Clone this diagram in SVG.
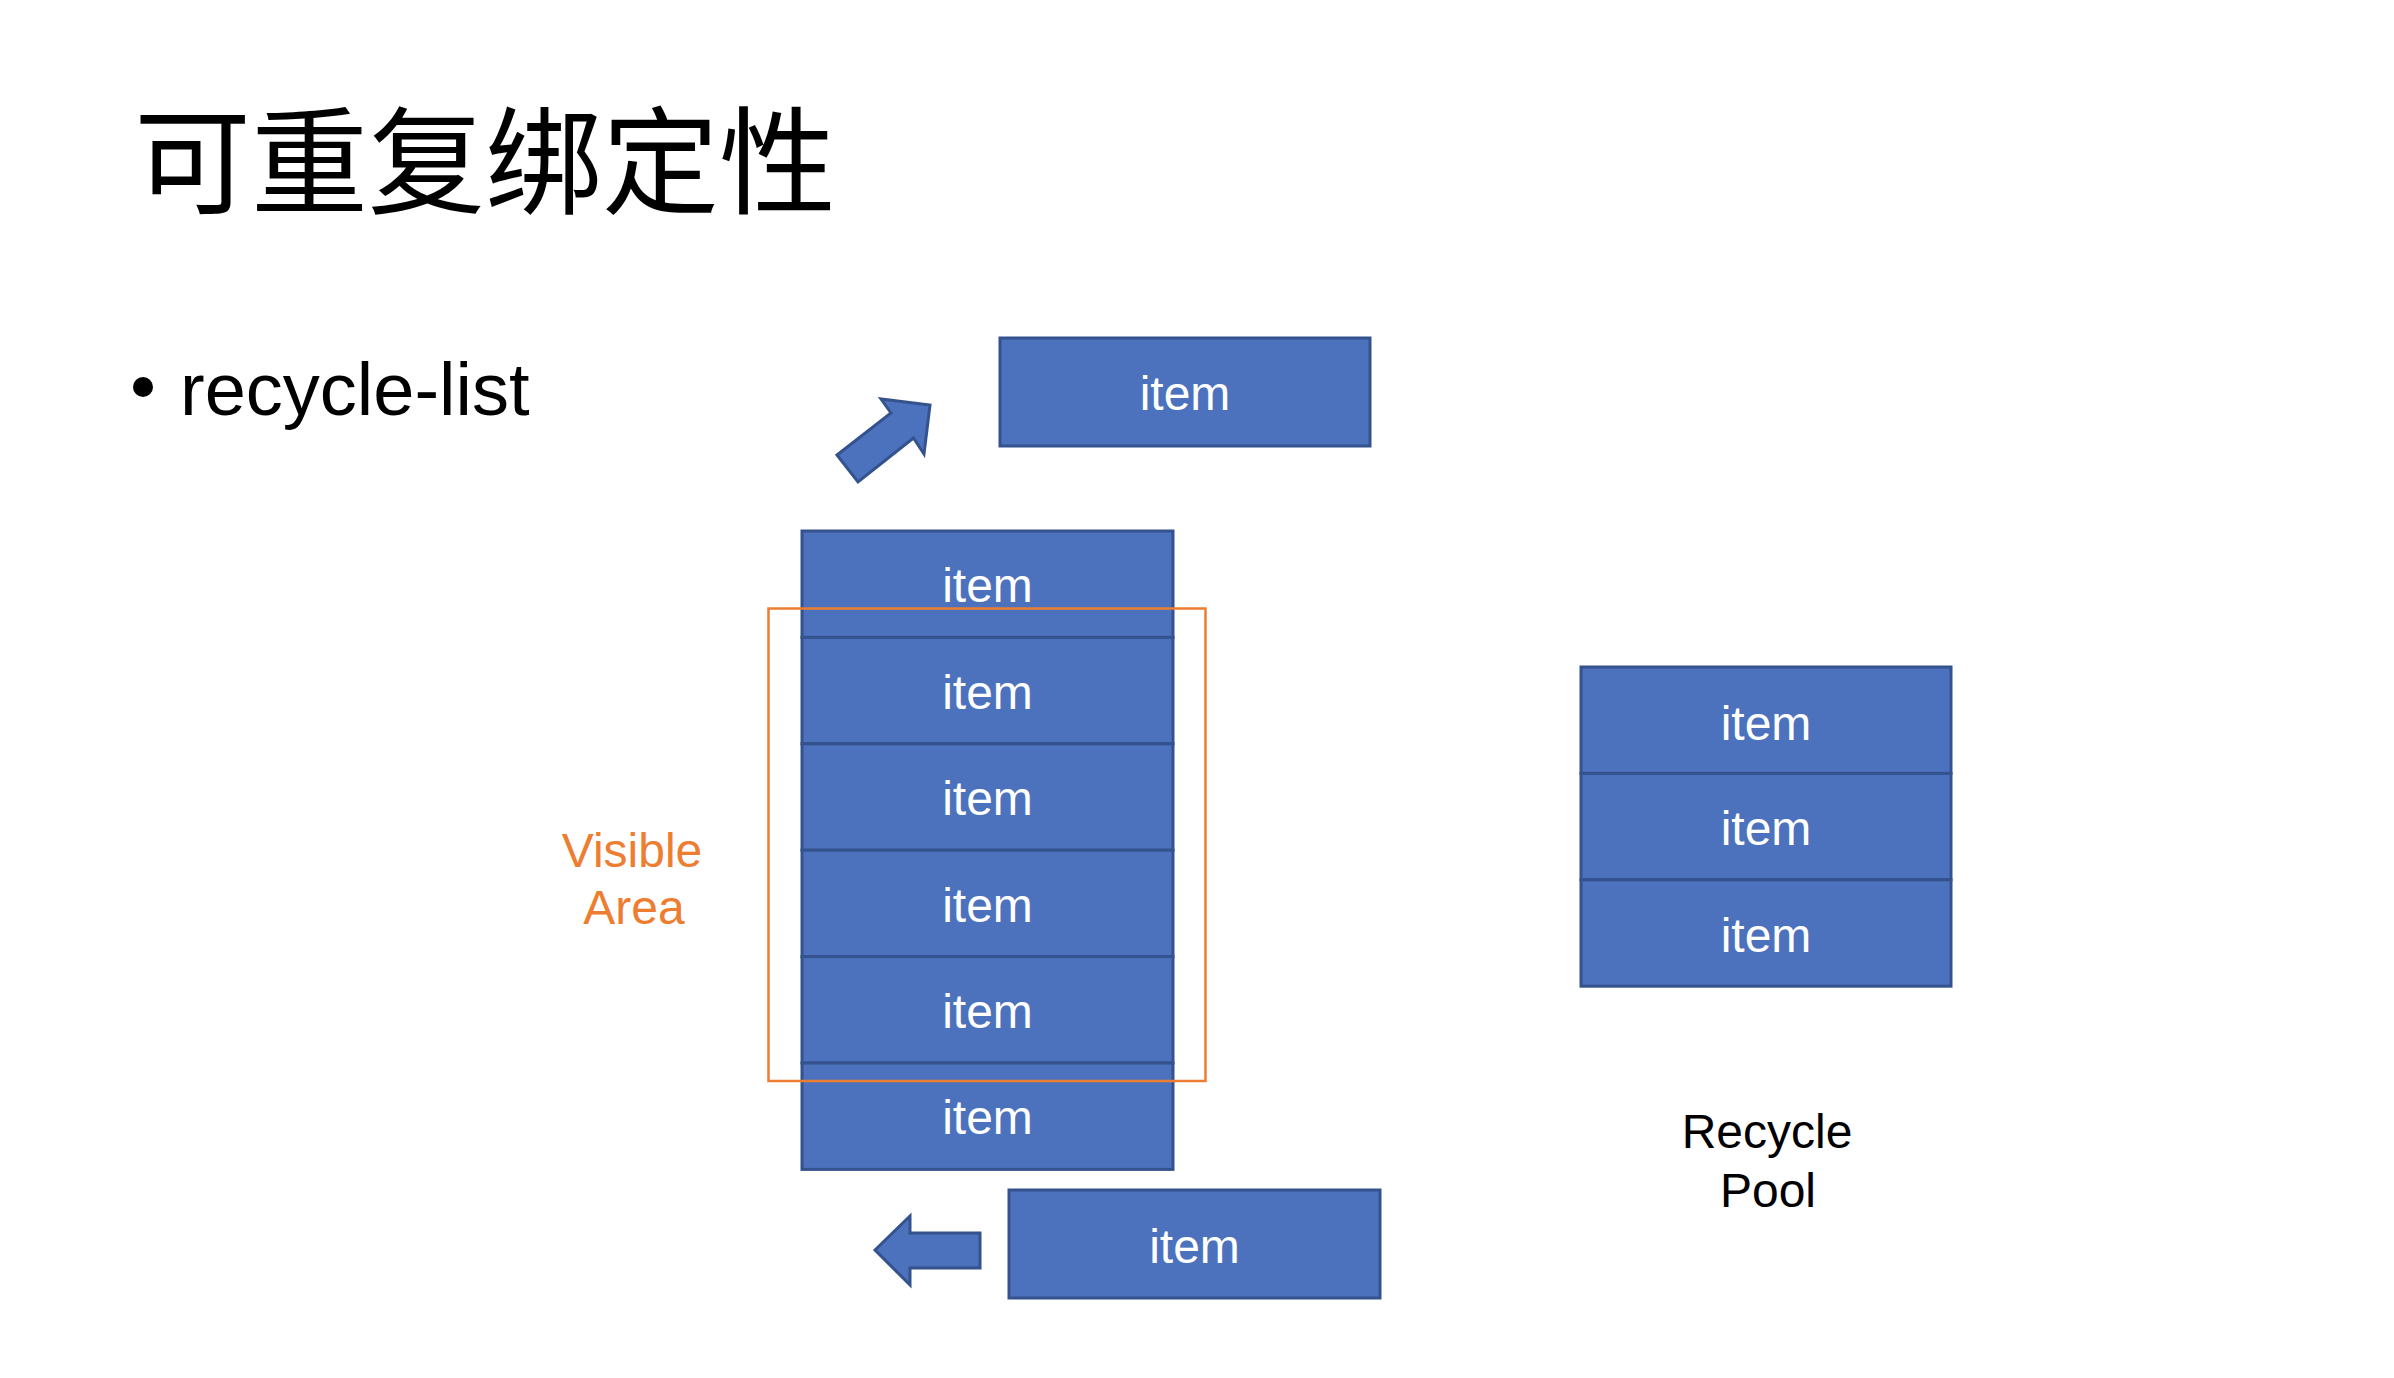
<svg xmlns="http://www.w3.org/2000/svg" width="2394" height="1378" viewBox="0 0 2394 1378">
<style>
.box{fill:#4C72BD;stroke:#34538E;stroke-width:3}
.it{font-family:"Liberation Sans",Arial,sans-serif;font-size:48px;fill:#FFFFFF;text-anchor:middle}
.lbl{font-family:"Liberation Sans",Arial,sans-serif;font-size:48px;text-anchor:middle}
.arr{fill:#4C72BD;stroke:#34538E;stroke-width:3;stroke-linejoin:miter}
</style>
<rect width="2394" height="1378" fill="#FFFFFF"/>
<text x="134" y="205" font-family="'Noto Sans CJK SC','Liberation Sans',sans-serif" font-size="117" fill="#000000">可重复绑定性</text>
<circle cx="143" cy="387" r="10" fill="#000000"/>
<text x="180" y="415" font-family="'Liberation Sans',Arial,sans-serif" font-size="74" fill="#000000">recycle-list</text>

<g id="top-item"><rect class="box" x="1000" y="338" width="370" height="108"/><text class="it" x="1185" y="410">item</text></g>

<g id="stack">
<g id="stack-1"><rect class="box" x="802" y="531" width="371" height="106.4"/><text class="it" x="987.5" y="602">item</text></g>
<g id="stack-2"><rect class="box" x="802" y="637.4" width="371" height="106.4"/><text class="it" x="987.5" y="708.5">item</text></g>
<g id="stack-3"><rect class="box" x="802" y="743.8" width="371" height="106.4"/><text class="it" x="987.5" y="815">item</text></g>
<g id="stack-4"><rect class="box" x="802" y="850.2" width="371" height="106.4"/><text class="it" x="987.5" y="921.5">item</text></g>
<g id="stack-5"><rect class="box" x="802" y="956.6" width="371" height="106.4"/><text class="it" x="987.5" y="1028">item</text></g>
<g id="stack-6"><rect class="box" x="802" y="1063" width="371" height="106.4"/><text class="it" x="987.5" y="1134">item</text></g>
</g>

<g id="visible-area">
<rect x="768.5" y="608.5" width="437" height="472.5" fill="none" stroke="#ED7D31" stroke-width="2.5"/>
<text class="lbl" fill="#ED7D31"><tspan x="632" y="867">Visible</tspan><tspan x="634" y="924">Area</tspan></text>
</g>

<g id="bottom-item"><rect class="box" x="1009" y="1190" width="371" height="108"/><text class="it" x="1194.5" y="1263">item</text></g>

<g id="recycle-pool">
<g id="pool-1"><rect class="box" x="1581" y="667" width="370" height="106.4"/><text class="it" x="1766" y="740">item</text></g>
<g id="pool-2"><rect class="box" x="1581" y="773.4" width="370" height="106.4"/><text class="it" x="1766" y="845">item</text></g>
<g id="pool-3"><rect class="box" x="1581" y="879.8" width="370" height="106.4"/><text class="it" x="1766" y="952">item</text></g>
<text class="lbl" fill="#000000"><tspan x="1767" y="1148">Recycle</tspan><tspan x="1768" y="1207">Pool</tspan></text>
</g>

<g id="connectors">
<polygon class="arr" points="837,455 891,413 881,399 930,405 924,454 913.5,438 858,482"/>
<polygon class="arr" points="875,1250 910,1216 910,1233 980,1233 980,1268 910,1268 910,1285"/>
</g>
</svg>
